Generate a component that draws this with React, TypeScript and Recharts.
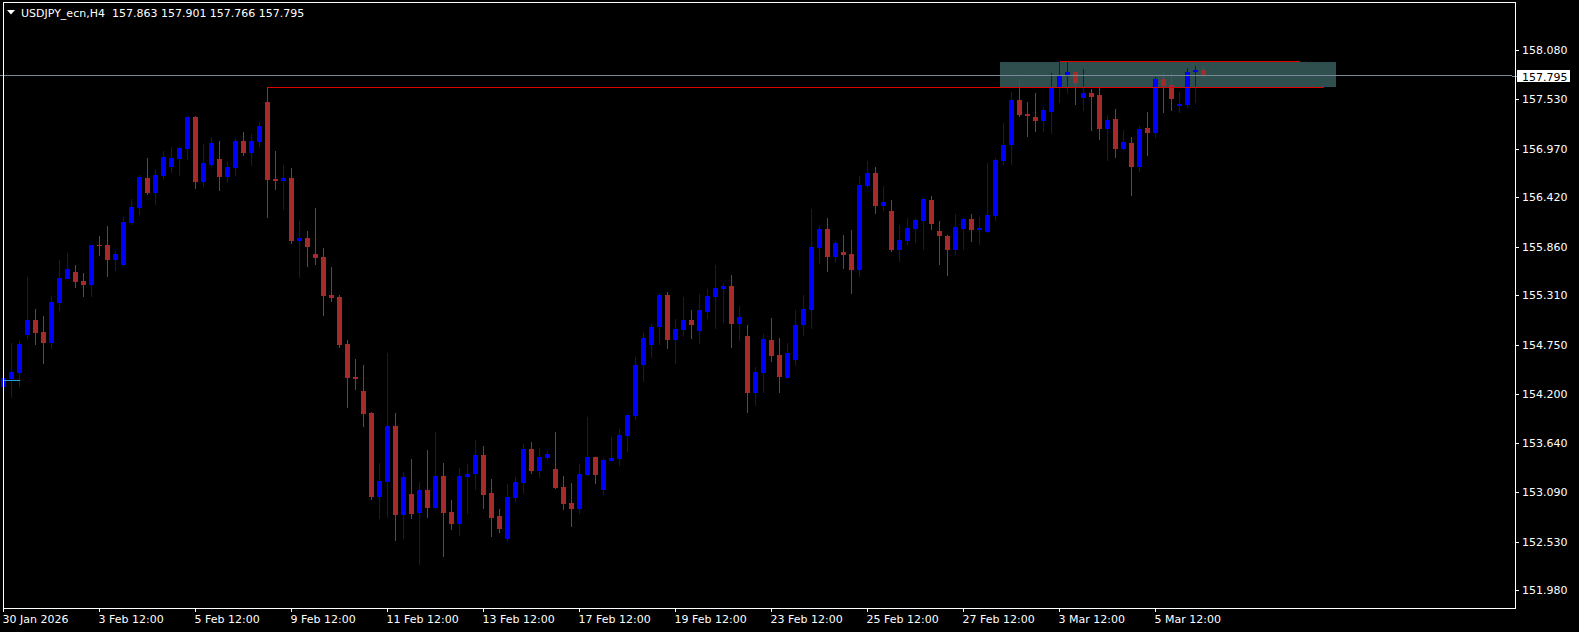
import { Bar, ComposedChart, ReferenceArea, ReferenceLine, XAxis, YAxis } from "recharts";

// USDJPY_ecn H4, MT4 black scheme. One bar slot is 8 px wide, the chart is
// shifted left so the right side keeps some empty slots.

const OPEN = [
  154.279, 154.37, 154.438, 154.867, 155.033, 154.897, 154.777, 155.229, 155.5, 155.575,
  155.473, 155.428, 155.884, 155.88, 155.715, 155.654, 156.133, 156.302, 156.637, 156.472,
  156.664, 156.766, 156.856, 156.965, 157.327, 156.596, 156.784, 156.852, 156.649, 156.754,
  157.056, 156.92, 157.048, 157.496, 156.626, 156.604, 156.637, 155.926, 155.959, 155.779,
  155.745, 155.315, 155.293, 154.762, 154.389, 154.23, 153.982, 153.032, 153.202, 153.835,
  152.829, 153.067, 152.852, 153.112, 152.908, 153.27, 152.863, 152.728, 153.259, 153.293,
  153.507, 153.078, 152.818, 152.558, 153.021, 153.191, 153.575, 153.327, 153.474, 153.349,
  153.146, 152.965, 152.897, 153.281, 153.485, 153.112, 153.439, 153.462, 153.722, 153.948,
  154.524, 154.75, 154.954, 155.315, 154.807, 154.92, 155.033, 154.909, 155.123, 155.293,
  155.383, 155.417, 154.988, 154.852, 154.208, 154.434, 154.807, 154.637, 154.377, 154.581,
  154.976, 155.146, 155.846, 156.061, 155.745, 155.801, 155.779, 155.598, 156.547, 156.694,
  156.321, 156.265, 155.824, 155.926, 156.061, 156.152, 156.389, 156.039, 155.982, 155.824,
  156.061, 156.174, 156.05, 156.027, 156.208, 156.83, 157.01, 157.519, 157.361, 157.327,
  157.282, 157.383, 157.666, 157.79, 157.835, 157.542, 157.598, 157.575, 157.191, 157.304,
  156.965, 157.033, 156.762, 157.203, 157.146, 157.756, 157.688, 157.451, 157.462, 157.835,
  157.863,
];
const HIGH = [
  154.4, 154.769, 154.795, 155.519, 155.157, 155.078, 155.304, 155.711, 155.79, 155.654,
  155.564, 155.885, 155.982, 156.095, 155.809, 156.193, 156.396, 156.668, 156.864, 156.739,
  156.943, 156.984, 156.992, 157.338, 157.338, 157.022, 157.101, 157.056, 156.83, 157.074,
  157.157, 157.135, 157.27, 157.662, 156.943, 156.784, 156.751, 156.152, 156.039, 156.298,
  155.846, 155.632, 155.315, 154.807, 154.592, 154.524, 153.993, 153.417, 154.66, 153.98,
  153.315, 153.462, 153.202, 153.564, 153.767, 153.417, 152.999, 153.36, 153.406, 153.677,
  153.609, 153.236, 152.897, 153.18, 153.259, 153.632, 153.654, 153.586, 153.552, 153.767,
  153.27, 153.191, 153.406, 153.937, 153.49, 153.473, 153.711, 153.801, 153.962, 154.615,
  154.886, 154.988, 155.338, 155.349, 155.044, 155.293, 155.146, 155.327, 155.383, 155.654,
  155.451, 155.541, 155.191, 154.976, 154.502, 154.875, 155.056, 154.83, 154.773, 155.146,
  155.315, 156.287, 156.095, 156.186, 155.926, 155.993, 156.05, 156.66, 156.83, 156.762,
  156.547, 156.389, 156.106, 156.186, 156.186, 156.412, 156.434, 156.152, 155.993, 156.231,
  156.186, 156.231, 156.197, 156.807, 156.864, 157.259, 157.609, 157.756, 157.496, 157.598,
  157.44, 157.824, 157.96, 157.948, 157.847, 157.869, 157.643, 157.666, 157.349, 157.417,
  157.18, 157.101, 157.225, 157.383, 157.779, 157.847, 157.847, 157.609, 157.881, 157.903,
  157.901,
];
const LOW = [
  154.151, 154.155, 154.279, 154.814, 154.75, 154.539, 154.701, 155.138, 155.492, 155.398,
  155.296, 155.296, 155.76, 155.522, 155.59, 155.643, 156.106, 156.223, 156.445, 156.332,
  156.622, 156.694, 156.664, 156.845, 156.517, 156.54, 156.758, 156.491, 156.585, 156.66,
  156.886, 156.773, 156.988, 156.185, 156.502, 156.276, 155.892, 155.507, 155.632, 155.654,
  155.078, 155.236, 154.716, 154.038, 154.242, 153.824, 152.999, 152.784, 152.795, 152.537,
  152.558, 152.784, 152.264, 152.795, 152.897, 152.355, 152.66, 152.592, 152.841, 153.112,
  152.897, 152.581, 152.626, 152.535, 152.976, 153.067, 153.293, 153.247, 153.451, 153.123,
  152.886, 152.694, 152.841, 153.27, 153.18, 153.055, 153.435, 153.383, 153.541, 153.903,
  154.332, 154.603, 154.75, 154.705, 154.536, 154.852, 154.818, 154.762, 155.044, 154.931,
  154.999, 154.716, 154.796, 153.982, 154.061, 154.208, 154.558, 154.208, 154.37, 154.513,
  154.852, 154.931, 155.666, 155.575, 155.677, 155.609, 155.327, 155.519, 156.525, 156.231,
  156.265, 155.801, 155.688, 155.88, 155.903, 155.824, 156.05, 155.654, 155.53, 155.767,
  155.824, 155.914, 155.88, 156.02, 156.152, 156.784, 156.784, 157.327, 157.101, 157.157,
  157.157, 157.135, 157.485, 157.587, 157.462, 157.395, 157.169, 157.067, 156.83, 156.863,
  156.954, 156.434, 156.705, 156.886, 157.09, 157.372, 157.395, 157.372, 157.429, 157.485,
  157.766,
];
const CLOSE = [
  154.374, 154.445, 154.762, 155.033, 154.89, 154.777, 155.236, 155.507, 155.605, 155.466,
  155.432, 155.88, 155.873, 155.715, 155.779, 156.14, 156.306, 156.645, 156.472, 156.668,
  156.871, 156.864, 156.973, 157.323, 156.596, 156.803, 157.029, 156.649, 156.758, 157.056,
  156.924, 157.056, 157.225, 156.615, 156.607, 156.637, 155.926, 155.959, 155.858, 155.733,
  155.304, 155.281, 154.75, 154.377, 154.366, 153.97, 153.032, 153.213, 153.835, 152.829,
  153.255, 152.841, 153.112, 152.908, 153.27, 152.852, 152.728, 153.27, 153.293, 153.507,
  153.055, 152.795, 152.671, 153.033, 153.202, 153.575, 153.327, 153.485, 153.519, 153.134,
  152.954, 152.897, 153.293, 153.485, 153.281, 153.451, 153.473, 153.733, 153.959, 154.524,
  154.83, 154.954, 155.315, 154.807, 154.931, 155.033, 154.976, 155.146, 155.304, 155.395,
  155.417, 154.988, 155.067, 154.208, 154.445, 154.818, 154.626, 154.389, 154.66, 154.976,
  155.157, 155.858, 156.061, 155.745, 155.903, 155.767, 155.598, 156.558, 156.694, 156.321,
  156.366, 155.824, 155.937, 156.073, 156.163, 156.4, 156.118, 155.982, 155.824, 156.084,
  156.174, 156.05, 156.073, 156.219, 156.841, 157.01, 157.519, 157.349, 157.338, 157.282,
  157.406, 157.655, 157.801, 157.835, 157.711, 157.598, 157.553, 157.191, 157.293, 156.965,
  157.044, 156.762, 157.191, 157.146, 157.756, 157.677, 157.53, 157.474, 157.835, 157.858,
  157.795,
];

const EMPTY_SLOTS = 38;

const TIME_TICKS = [0, 12, 24, 36, 48, 60, 72, 84, 96, 108, 120, 132, 144];
const TIME_LABELS = [
  "30 Jan 2026", "3 Feb 12:00", "5 Feb 12:00", "9 Feb 12:00", "11 Feb 12:00",
  "13 Feb 12:00", "17 Feb 12:00", "19 Feb 12:00", "23 Feb 12:00", "25 Feb 12:00",
  "27 Feb 12:00", "3 Mar 12:00", "5 Mar 12:00",
];
const PRICE_TICKS = [
  151.98, 152.53, 153.09, 153.64, 154.2, 154.75, 155.31, 155.86, 156.42, 156.97, 157.53, 158.08,
];
const PRICE_DOMAIN = [151.779, 158.626];

const BID = 157.795;
const SUPPORT_LINE = { from: 33, to: 165, price: 157.662 };
const TOP_LINE = { from: 132, to: 162, price: 157.956 };
const ZONE = { from: 125, to: 166, low: 157.666, high: 157.948 };
const SHORT_LINE = { from: 0, to: 2, price: 154.344 };

const HEADER = "USDJPY_ecn,H4  157.863 157.901 157.766 157.795";

const BULL = "#0000FF";
const BEAR = "#A52A2A";
const FONT = "'DejaVu Sans', sans-serif";
const RIGHT_EDGE = 1515;
const BOTTOM_EDGE = 608;

const rows = Array.from({ length: OPEN.length + EMPTY_SLOTS }, (_, i) =>
  i < OPEN.length
    ? { i, o: OPEN[i], h: HIGH[i], l: LOW[i], c: CLOSE[i], range: [LOW[i], HIGH[i]] }
    : { i }
);

function Candle(props: any) {
  const { x, y, width, height, payload } = props;
  if (!payload || payload.o == null) return null;
  const top = Math.min(y, y + height);
  const bot = Math.max(y, y + height);
  const span = payload.h - payload.l;
  const py = (p: number) => (span > 0 ? top + ((payload.h - p) / span) * (bot - top) : top);
  const cx = Math.floor(x + width / 2) - 0.5;
  const color = payload.c > payload.o ? BULL : BEAR;
  const hi = Math.round(top);
  const lo = Math.round(bot);
  const b1 = Math.round(py(Math.max(payload.o, payload.c)));
  const b2 = Math.round(py(Math.min(payload.o, payload.c)));
  return (
    <g shapeRendering="crispEdges">
      <rect x={cx - 0.5} y={hi} width={1} height={Math.max(1, lo - hi)} fill={color} />
      <rect x={cx - 2.5} y={b1} width={5} height={Math.max(1, b2 - b1)} fill={color} />
    </g>
  );
}

function PriceTick(props: any) {
  const { y, payload } = props;
  const ly = Math.round(y) + 0.5;
  return (
    <g>
      <line x1={RIGHT_EDGE + 1} x2={RIGHT_EDGE + 4} y1={ly} y2={ly} stroke="#fff" />
      <text x={RIGHT_EDGE + 7} y={y + 4} fill="#fff" fontSize={11} fontFamily={FONT}>
        {Number(payload.value).toFixed(3)}
      </text>
    </g>
  );
}

function TimeTick(props: any) {
  const { x, payload } = props;
  const idx = TIME_TICKS.indexOf(Number(payload.value));
  const tx = Math.floor(x) - 0.5;
  return (
    <g>
      <line x1={tx} x2={tx} y1={BOTTOM_EDGE + 1} y2={BOTTOM_EDGE + 4} stroke="#fff" />
      <text x={tx - 1} y={623} fill="#fff" fontSize={11} fontFamily={FONT}>
        {idx >= 0 ? TIME_LABELS[idx] : ""}
      </text>
    </g>
  );
}

function BidBox(props: any) {
  const { viewBox } = props;
  if (!viewBox) return null;
  const y = Math.round(viewBox.y) + 0.5;
  const end = viewBox.x + viewBox.width;
  return (
    <g>
      <line x1={end} x2={RIGHT_EDGE + 2} y1={y} y2={y} stroke="#778899" />
      <rect x={RIGHT_EDGE + 2} y={y - 6.5} width={53} height={12} fill="#fff" />
      <text x={RIGHT_EDGE + 7} y={y + 4} fill="#000" fontSize={11} fontFamily={FONT}>
        {BID.toFixed(3)}
      </text>
    </g>
  );
}

export default function App() {
  return (
    <div style={{ position: "absolute", left: 0, top: 0, width: 1579, height: 632, background: "#000" }}>
      <ComposedChart
        width={1579}
        height={632}
        data={rows}
        margin={{ top: 2, right: 0, bottom: 0, left: 0 }}
        barCategoryGap={0}
        barGap={0}
      >
        <XAxis
          dataKey="i"
          type="category"
          height={24}
          ticks={TIME_TICKS}
          interval={0}
          tick={<TimeTick />}
          tickLine={false}
          axisLine={false}
        />
        <YAxis
          orientation="right"
          type="number"
          width={67}
          domain={PRICE_DOMAIN}
          allowDataOverflow
          ticks={PRICE_TICKS}
          interval={0}
          tick={<PriceTick />}
          tickLine={false}
          axisLine={false}
        />
        <ReferenceArea
          x1={ZONE.from}
          x2={ZONE.to}
          y1={ZONE.low}
          y2={ZONE.high}
          fill="#2F4F4F"
          fillOpacity={1}
          stroke="none"
        />
        <Bar dataKey="range" shape={<Candle />} isAnimationActive={false} />
        <ReferenceLine
          segment={[
            { x: SHORT_LINE.from, y: SHORT_LINE.price },
            { x: SHORT_LINE.to, y: SHORT_LINE.price },
          ]}
          stroke="#1E9FE6"
          shapeRendering="crispEdges"
        />
        <ReferenceLine
          segment={[
            { x: SUPPORT_LINE.from, y: SUPPORT_LINE.price },
            { x: SUPPORT_LINE.to, y: SUPPORT_LINE.price },
          ]}
          stroke="#E00000"
          shapeRendering="crispEdges"
        />
        <ReferenceLine
          segment={[
            { x: TOP_LINE.from, y: TOP_LINE.price },
            { x: TOP_LINE.to, y: TOP_LINE.price },
          ]}
          stroke="#E00000"
          shapeRendering="crispEdges"
        />
        <ReferenceLine y={BID} stroke="#778899" shapeRendering="crispEdges" label={<BidBox />} />
      </ComposedChart>
      <svg
        width={1579}
        height={632}
        style={{ position: "absolute", left: 0, top: 0, pointerEvents: "none" }}
      >
        <rect x={3.5} y={2.5} width={RIGHT_EDGE - 3} height={BOTTOM_EDGE - 2} fill="none" stroke="#fff" />
        <polygon points="7,10 15,10 11,14.5" fill="#fff" />
        <text x={21} y={17} fill="#fff" fontSize={11} fontFamily={FONT} style={{ whiteSpace: "pre" }}>
          {HEADER}
        </text>
      </svg>
    </div>
  );
}
